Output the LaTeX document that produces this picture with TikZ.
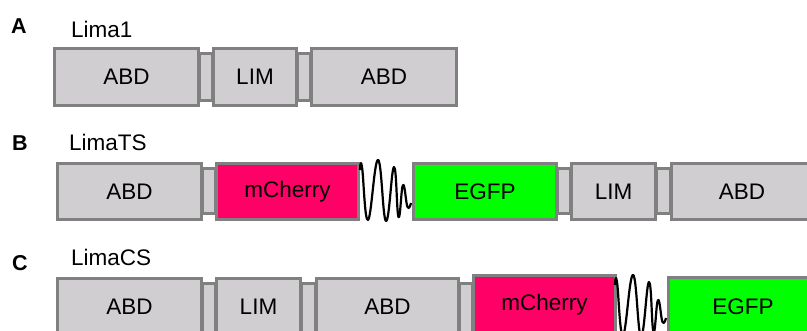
\documentclass[tikz,border=0pt]{standalone}
\usepackage{fontspec}
\setmainfont{Liberation Sans}
\definecolor{dfill}{RGB}{208,206,208}
\definecolor{dline}{RGB}{128,128,128}
\definecolor{cherry}{RGB}{255,0,102}
\definecolor{gfp}{RGB}{0,255,0}
\tikzset{
  dom/.style={draw=dline, line width=3.2pt, fill=dfill, inner sep=0pt, outer sep=0pt,
    font=\fontsize{22.5}{26}\selectfont},
  lnk/.style={dom},
  mch/.style={dom, fill=cherry},
  gfpbox/.style={dom, fill=gfp},
  panel/.style={font=\fontsize{21.5}{24}\selectfont\bfseries, inner sep=0pt},
  title/.style={font=\fontsize{22.5}{26}\selectfont, inner sep=0pt, anchor=west},
  wave/.style={line width=2.2pt, black, line join=round}
}
% \mydom{style}{name}{x1}{x2}{ytop}{ybot}{text}  (outer edges, image pixels)
\newcommand\mydom[7]{%
  \node[#1, minimum width={#4-#3-3}, minimum height={#6-#5-3}]
    (#2) at ({(#3+#4)/2},{-(#5+#6)/2}) {#7};}
\begin{document}
\begin{tikzpicture}[x=1pt,y=1pt]
\useasboundingbox (0,0) rectangle (807,-331);
\clip (0,0) rectangle (807,-331);
% ---------- A ----------
\node[panel] (pA) at (19,-26) {A};
\node[title] (tA) at (71,-29) {Lima1};
\mydom{lnk}{la1}{198}{214}{52}{102}{}
\mydom{lnk}{la2}{296}{312}{52}{102}{}
\mydom{dom}{a1}{53}{200}{47}{107}{ABD}
\mydom{dom}{a2}{212}{298}{47}{107}{LIM}
\mydom{dom}{a3}{310}{458}{47}{107}{ABD}
% ---------- B ----------
\node[panel] (pB) at (20,-143) {B};
\node[title] (tB) at (69,-142) {LimaTS};
\mydom{lnk}{lb1}{201}{217}{167}{215}{}
\mydom{lnk}{lb2}{556}{572}{167}{215}{}
\mydom{lnk}{lb3}{655}{672}{167}{215}{}
\mydom{dom}{b1}{56}{203}{162}{221}{ABD}
\mydom{mch}{b2}{215}{360}{162}{221}{mCherry}
\mydom{gfpbox}{b3}{412}{558}{162}{221}{EGFP}
\mydom{dom}{b4}{570}{657}{162}{221}{LIM}
\mydom{dom}{b5}{670}{814}{162}{221}{ABD}
\draw[wave]
  plot[smooth, tension=0.75] coordinates {(360,-170) (362,-167) (368,-220) (378,-160) (386,-221) (394,-167) (398.5,-217) (403,-185) (407.5,-207) (411,-203)};
% ---------- C ----------
\node[panel] (pC) at (20,-263) {C};
\node[title] (tC) at (71,-257) {LimaCS};
\mydom{lnk}{lc1}{201}{217}{282}{340}{}
\mydom{lnk}{lc2}{300}{317}{282}{340}{}
\mydom{lnk}{lc3}{458}{474}{282}{340}{}
\mydom{dom}{c1}{56}{203}{277}{337}{ABD}
\mydom{dom}{c2}{215}{302}{277}{337}{LIM}
\mydom{dom}{c3}{315}{460}{277}{337}{ABD}
\mydom{mch}{c4}{472}{617}{274}{336}{mCherry}
\mydom{gfpbox}{c5}{667}{819}{276}{338}{EGFP}
\draw[wave]
  plot[smooth, tension=0.75] coordinates {(615,-285) (617,-282) (623,-335) (633,-275) (641,-336) (649,-282) (653.5,-332) (658,-300) (662.5,-322) (666,-318)};
\end{tikzpicture}
\end{document}
